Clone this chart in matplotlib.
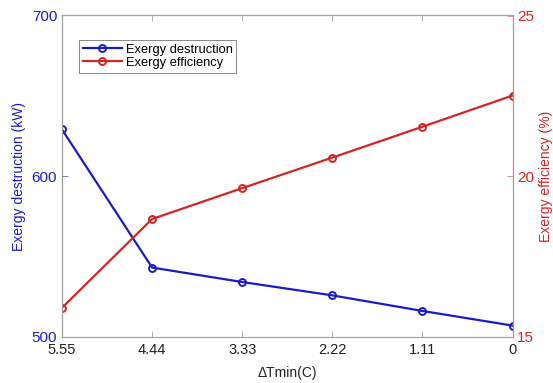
import matplotlib
matplotlib.use("Agg")
import matplotlib.pyplot as plt

plt.rcParams['font.family'] = ['Liberation Sans', 'DejaVu Sans']

# Data
dt_labels = ["5.55", "4.44", "3.33", "2.22", "1.11", "0"]
dt_pos = [0, 1, 2, 3, 4, 5]
exergy_destruction = [629.1, 543.2, 534.2, 525.9, 516.2, 507.1]   # kW
exergy_efficiency = [15.91, 18.67, 19.63, 20.58, 21.54, 22.51]    # %

blue = "#1c1cc4"
red = "#d42424"
gray = "#a0a0a0"

fig = plt.figure(figsize=(5.53, 3.83), dpi=100)
ax = fig.add_axes([62 / 553, 1 - 337 / 383, (512.5 - 62) / 553, (337 - 15.5) / 383])
ax2 = ax.twinx()

l1, = ax.plot(dt_pos, exergy_destruction, color=blue, lw=1.6, marker='o',
              ms=5, mfc='none', mew=1.4, label="Exergy destruction")
l2, = ax2.plot(dt_pos, exergy_efficiency, color=red, lw=1.6, marker='o',
               ms=5, mfc='none', mew=1.4, label="Exergy efficiency")

ax.set_xlim(0, 5)
ax.set_ylim(500, 700)
ax2.set_ylim(15, 25)
ax.set_xticks(dt_pos)
ax.set_xticklabels(dt_labels)
ax.set_yticks([500, 600, 700])
ax2.set_yticks([15, 20, 25])

for a in (ax, ax2):
    for s in a.spines.values():
        s.set_color(gray)
        s.set_linewidth(0.8)
ax.spines['left'].set_color("#6060c8")
ax2.spines['right'].set_color("#d88080")

ax.tick_params(axis='x', direction='in', top=True, length=4, width=0.6,
               color=gray, labelsize=10.5, labelcolor="#222222", pad=4)
ax.tick_params(axis='y', direction='in', length=4, width=0.6,
               color="#6060c8", labelsize=11, labelcolor=blue)
ax2.tick_params(axis='y', direction='in', length=4, width=0.6,
                color="#d88080", labelsize=11, labelcolor=red)

ax.set_xlabel("ΔTmin(C)", fontsize=10, color="#222222", labelpad=7)
ax.set_ylabel("Exergy destruction (kW)", fontsize=10, color=blue, labelpad=4)
ax2.set_ylabel("Exergy efficiency (%)", fontsize=10, color=red, labelpad=3)

leg = ax.legend(handles=[l1, l2], loc='upper left', bbox_to_anchor=(0.038, 0.925),
                fontsize=9.3, frameon=True, fancybox=False, framealpha=1,
                edgecolor="#888888", handlelength=3.0, handletextpad=0.3,
                borderpad=0.3, labelspacing=0.1, borderaxespad=0)
leg.get_frame().set_linewidth(0.7)

fig.savefig("out.png", dpi=100)
